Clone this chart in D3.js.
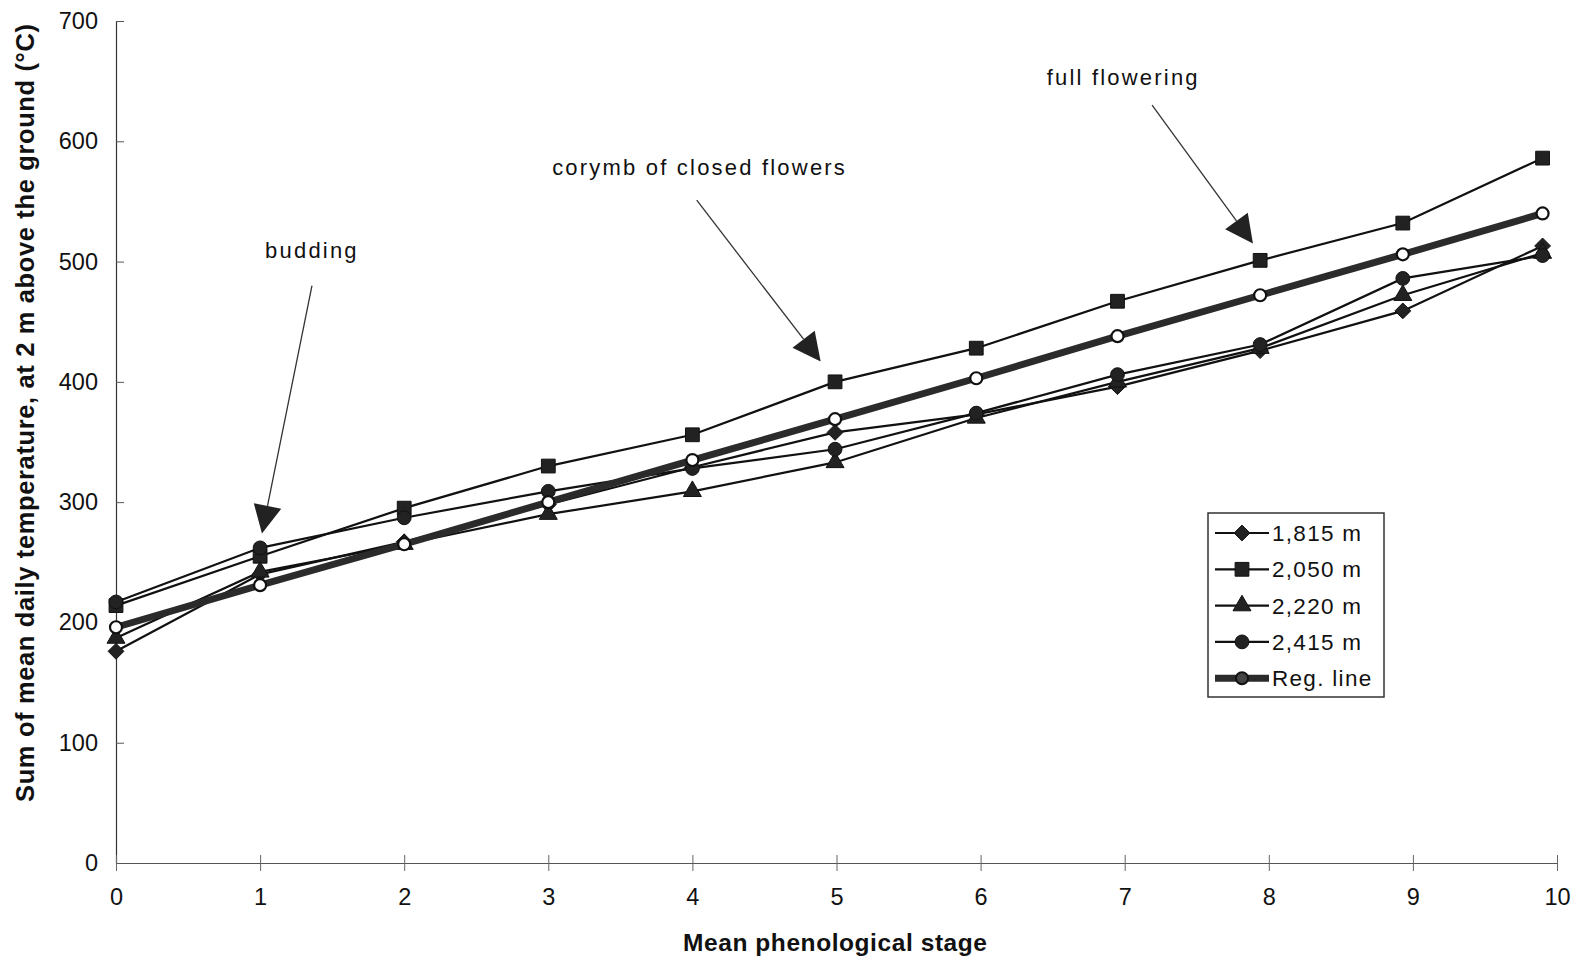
<!DOCTYPE html>
<html>
<head>
<meta charset="utf-8">
<script src="https://cdn.jsdelivr.net/npm/d3@7"></script>
<style>
  html, body { margin: 0; padding: 0; background: #fff; }
  svg { display: block; font-family: "Liberation Sans", Arial, sans-serif; }
</style>
</head>
<body>
<svg id="chart" width="1592" height="957"></svg>
<script>
// ---- Data ----
const stages = [0, 1, 2, 3, 4, 4.99, 5.97, 6.95, 7.94, 8.93, 9.9];
const s1815 = [176, 240, 267, 298, 329, 358, 373, 396, 426, 459, 513];
const s2050 = [214, 255, 295, 330, 356, 400, 428, 467, 501, 532, 586];
const s2220 = [187, 242, 265, 290, 309, 333, 370, 400, 428, 472, 507];
const s2415 = [217, 262, 287, 309, 328, 344, 374, 406, 431, 486, 505];
const regLine = [196, 231, 265, 300, 335, 369, 403, 438, 472, 506, 540];
const seriesNames = ["1,815 m", "2,050 m", "2,220 m", "2,415 m", "Reg. line"];
const xTicks = [0, 1, 2, 3, 4, 5, 6, 7, 8, 9, 10];
const yTicks = [0, 100, 200, 300, 400, 500, 600, 700];
const annotationTexts = ["budding", "corymb of closed flowers", "full flowering"];
// annotation anchors in data units: [text x, text y, line-start x, line-start y, tip x, tip y]
const annotationAnchors = [
  [1.36, 509, 1.36, 480, 1.013, 274],
  [4.05, 578, 4.03, 551, 4.89, 417],
  [6.99, 653, 7.19, 630, 7.89, 515]
];

// ---- Layout ----
const svg = d3.select("#chart");
const x = d3.scaleLinear().domain([0, 10]).range([116, 1557]);
const y = d3.scaleLinear().domain([0, 700]).range([863, 21]);

// Diamond drawn as a rotated square (wide diamond like the original)
const diamondWide = {
  draw(context, size) {
    const r = Math.sqrt(size / 2);
    context.moveTo(0, -r); context.lineTo(r, 0); context.lineTo(0, r); context.lineTo(-r, 0); context.closePath();
  }
};

// Axes
const yAxis = svg.append("g").attr("transform", `translate(${x(0)},0)`)
  .call(d3.axisLeft(y).tickValues(yTicks).tickSizeInner(8).tickSizeOuter(0).tickPadding(10));
yAxis.select(".domain").attr("stroke", "#333").attr("stroke-width", 1.2);
yAxis.selectAll(".tick line").attr("stroke", "#555").attr("x2", 8);
yAxis.selectAll(".tick text").attr("font-size", 23.5).attr("fill", "#111")
  .attr("font-family", "'Liberation Sans', Arial, sans-serif");

const xAxis = svg.append("g").attr("transform", `translate(0,${y(0)})`)
  .call(d3.axisBottom(x).tickValues(xTicks).tickSizeInner(8).tickSizeOuter(0).tickPadding(17));
xAxis.select(".domain").attr("stroke", "#555").attr("stroke-width", 1.2);
xAxis.selectAll(".tick line").attr("stroke", "#666").attr("y1", -8);
xAxis.selectAll(".tick text").attr("font-size", 23.5).attr("fill", "#111")
  .attr("font-family", "'Liberation Sans', Arial, sans-serif");

// Axis titles
svg.append("text")
  .attr("x", 835).attr("y", 951)
  .attr("text-anchor", "middle")
  .attr("font-size", 24.5).attr("font-weight", "bold").attr("fill", "#111")
  .attr("textLength", 304).attr("lengthAdjust", "spacing")
  .text("Mean phenological stage");

svg.append("text")
  .attr("transform", `translate(34,${413}) rotate(-90)`)
  .attr("text-anchor", "middle")
  .attr("font-size", 25.5).attr("font-weight", "bold").attr("fill", "#111")
  .attr("textLength", 778).attr("lengthAdjust", "spacing")
  .text("Sum of mean daily temperature, at 2 m above the ground (°C)");

// ---- Series ----
const series = [
  { name: seriesNames[0], values: s1815, symbol: diamondWide, size: 125 },
  { name: seriesNames[1], values: s2050, symbol: d3.symbolSquare, size: 190 },
  { name: seriesNames[2], values: s2220, symbol: d3.symbolTriangle, size: 140 },
  { name: seriesNames[3], values: s2415, symbol: d3.symbolCircle, size: 150 }
];

const line = d3.line().x((d, i) => x(stages[i])).y(d => y(d));

series.forEach(s => {
  svg.append("path").datum(s.values)
    .attr("d", line).attr("fill", "none")
    .attr("stroke", "#111").attr("stroke-width", 2.2);
});
series.forEach(s => {
  svg.append("g").selectAll("path").data(s.values).join("path")
    .attr("transform", (d, i) => `translate(${x(stages[i])},${y(d)})`)
    .attr("d", d3.symbol().type(s.symbol).size(s.size))
    .attr("fill", "#222").attr("stroke", "#111").attr("stroke-width", 1);
});

// Regression line
svg.append("path").datum(regLine)
  .attr("d", line).attr("fill", "none")
  .attr("stroke", "#2b2b2b").attr("stroke-width", 7);
svg.append("g").selectAll("circle").data(regLine).join("circle")
  .attr("cx", (d, i) => x(stages[i])).attr("cy", d => y(d))
  .attr("r", 6).attr("fill", "#fff").attr("stroke", "#111").attr("stroke-width", 2.2);

// ---- Annotations ----
annotationTexts.forEach((t, i) => {
  const a = annotationAnchors[i];
  svg.append("text")
    .attr("x", x(a[0])).attr("y", y(a[1]) + 7)
    .attr("text-anchor", "middle")
    .attr("font-size", 22).attr("letter-spacing", 2.2).attr("fill", "#111")
    .text(t);
  const x1 = x(a[2]), y1 = y(a[3]), x2 = x(a[4]), y2 = y(a[5]);
  const ang = Math.atan2(y2 - y1, x2 - x1);
  const L = 28, W = 14;
  const bx = x2 - L * Math.cos(ang), by = y2 - L * Math.sin(ang);
  svg.append("line")
    .attr("x1", x1).attr("y1", y1).attr("x2", bx).attr("y2", by)
    .attr("stroke", "#333").attr("stroke-width", 1.3);
  const px = -Math.sin(ang) * W, py = Math.cos(ang) * W;
  svg.append("path")
    .attr("d", `M${x2},${y2}L${bx + px},${by + py}L${bx - px},${by - py}Z`)
    .attr("fill", "#222");
});

// ---- Legend ----
const legend = svg.append("g");
legend.append("rect")
  .attr("x", 1208).attr("y", 513).attr("width", 176).attr("height", 184)
  .attr("fill", "#fff").attr("stroke", "#333").attr("stroke-width", 1.5);
const legendItems = series.map(s => ({ name: s.name, symbol: s.symbol, size: s.size, reg: false }))
  .concat([{ name: seriesNames[4], reg: true }]);
legendItems.forEach((it, i) => {
  const cy = 533 + i * 36.3;
  const g = legend.append("g");
  g.append("line").attr("x1", 1215).attr("x2", 1269).attr("y1", cy).attr("y2", cy)
    .attr("stroke", it.reg ? "#2b2b2b" : "#111").attr("stroke-width", it.reg ? 7 : 2.2);
  if (it.reg) {
    g.append("circle").attr("cx", 1242).attr("cy", cy).attr("r", 6)
      .attr("fill", "#444").attr("stroke", "#111").attr("stroke-width", 2);
  } else {
    g.append("path").attr("transform", `translate(1242,${cy})`)
      .attr("d", d3.symbol().type(it.symbol).size(it.size))
      .attr("fill", "#222").attr("stroke", "#111");
  }
  g.append("text").attr("x", 1272).attr("y", cy + 8)
    .attr("font-size", 22.5).attr("letter-spacing", 1.3).attr("fill", "#111")
    .text(it.name);
});
</script>
</body>
</html>
